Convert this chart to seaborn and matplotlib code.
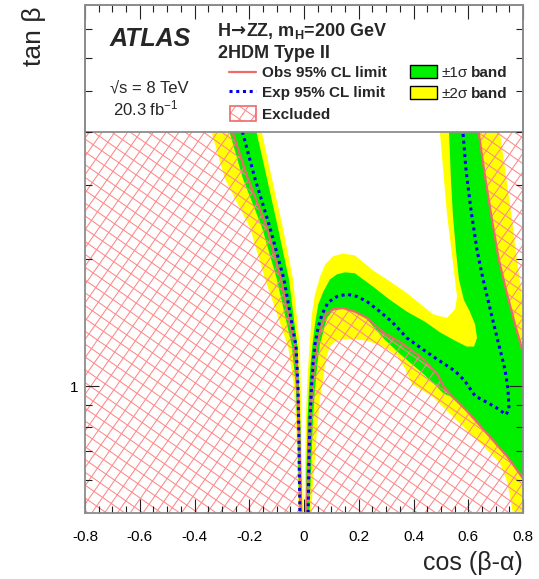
import numpy as np
import matplotlib
matplotlib.use("Agg")
import matplotlib.pyplot as plt
import seaborn as sns
from matplotlib.patches import Polygon, Rectangle
from matplotlib.collections import LineCollection
from matplotlib.lines import Line2D
from matplotlib.transforms import IdentityTransform
from matplotlib.ticker import FixedLocator, FixedFormatter, NullFormatter

# ---------------------------------------------------------------------------
# Limit contours in the (cos(beta-alpha), tan beta) plane
# ---------------------------------------------------------------------------
# left branch (cos < 0), sampled on a common tan(beta) grid (top -> bottom)
tb_left = [4.3, 3.96, 3.10, 2.37, 1.79, 1.24, 1.0, 0.79, 0.5]
left_2s_lo = [-0.352, -0.336, -0.289, -0.197, -0.142, -0.058, -0.037, -0.028, -0.020]
left_1s_lo = [-0.286, -0.270, -0.223, -0.153, -0.099, -0.044, -0.030, -0.024, -0.017]
left_obs = [-0.277, -0.259, -0.205, -0.135, -0.084, -0.033, -0.024, -0.018, -0.010]
left_exp = [-0.238, -0.223, -0.179, -0.124, -0.073, -0.029, -0.022, -0.019, -0.015]
left_1s_hi = [-0.184, -0.172, -0.135, -0.095, -0.055, -0.024, -0.018, -0.013, -0.007]
left_2s_hi = [-0.165, -0.153, -0.117, -0.077, -0.040, -0.015, -0.012, -0.009, -0.004]

# observed limit, right lobe (from cos~0 over the hump to the right edge)
obs_lo_x = [0.009, 0.015, 0.022, 0.029, 0.037, 0.048, 0.062, 0.080, 0.106, 0.142, 0.186,
            0.230, 0.289, 0.351, 0.435, 0.486, 0.511, 0.533, 0.595, 0.669, 0.742, 0.800]
obs_lo_t = [0.5, 0.638, 0.837, 0.984, 1.13, 1.255, 1.38, 1.48, 1.52, 1.53, 1.50,
            1.45, 1.34, 1.27, 1.16, 1.07, 0.995, 0.958, 0.873, 0.771, 0.681, 0.604]
# observed limit, upper right corner
obs_hi_x = [0.632, 0.639, 0.661, 0.687, 0.712, 0.742, 0.771, 0.800]
obs_hi_t = [4.3, 3.96, 3.15, 2.47, 1.99, 1.65, 1.40, 1.20]

# expected limit, right side
exp_r_x = [0.015, 0.018, 0.022, 0.027, 0.033, 0.040, 0.052, 0.066, 0.088, 0.121, 0.157, 0.194,
           0.230, 0.267, 0.321, 0.376, 0.435, 0.497, 0.552, 0.588, 0.625, 0.672, 0.709, 0.738,
           0.749, 0.745, 0.734, 0.716, 0.698, 0.676, 0.654, 0.632, 0.610, 0.592, 0.581, 0.577]
exp_r_t = [0.5, 0.655, 0.837, 0.984, 1.13, 1.255, 1.38, 1.48, 1.58, 1.63, 1.65, 1.63,
           1.585, 1.52, 1.42, 1.30, 1.22, 1.145, 1.085, 1.027, 0.947, 0.912, 0.883, 0.855,
           0.883, 0.984, 1.096, 1.22, 1.36, 1.56, 1.79, 2.10, 2.61, 3.24, 3.96, 4.3]

# +-1 sigma band, right side: edge towards the allowed region and edge towards the excluded one
g_in_x = [0.005, 0.009, 0.013, 0.018, 0.024, 0.031, 0.040, 0.052, 0.070, 0.095, 0.121, 0.150,
          0.186, 0.252, 0.314, 0.376, 0.442, 0.497, 0.552, 0.595, 0.621, 0.632, 0.625, 0.606,
          0.584, 0.566, 0.555, 0.544, 0.537, 0.530, 0.528]
g_in_t = [0.5, 0.638, 0.837, 0.984, 1.13, 1.255, 1.40, 1.56, 1.67, 1.79, 1.84, 1.86,
          1.85, 1.72, 1.60, 1.50, 1.42, 1.34, 1.28, 1.24, 1.24, 1.30, 1.40, 1.50,
          1.60, 1.79, 2.10, 2.54, 3.07, 3.96, 4.3]
g_out_x = [0.020, 0.026, 0.033, 0.040, 0.049, 0.058, 0.070, 0.084, 0.106, 0.142, 0.186,
           0.230, 0.289, 0.351, 0.435, 0.486, 0.511, 0.533, 0.595, 0.669, 0.742, 0.800]
g_out_t = [0.5, 0.638, 0.837, 0.984, 1.13, 1.255, 1.34, 1.45, 1.51, 1.53, 1.50,
           1.44, 1.30, 1.19, 1.07, 0.995, 0.958, 0.947, 0.869, 0.767, 0.677, 0.601]

# +-2 sigma band, right side
y_in_x = [0.002, 0.004, 0.007, 0.011, 0.016, 0.022, 0.029, 0.040, 0.058, 0.077, 0.106, 0.142,
          0.186, 0.252, 0.314, 0.376, 0.471, 0.522, 0.552, 0.559, 0.544, 0.522, 0.497, 0.494]
y_in_t = [0.5, 0.638, 0.837, 0.984, 1.13, 1.29, 1.48, 1.65, 1.81, 1.94, 2.03, 2.06,
          2.04, 1.88, 1.77, 1.66, 1.48, 1.45, 1.52, 1.63, 1.96, 2.57, 3.96, 4.3]
y_edge_x = [0.712, 0.716, 0.738, 0.760, 0.778, 0.793, 0.800]
y_edge_t = [4.3, 3.96, 3.15, 2.47, 1.99, 1.69, 1.56]
y_out_x = [0.026, 0.037, 0.048, 0.058, 0.070, 0.080, 0.095, 0.117, 0.142, 0.186, 0.230,
           0.289, 0.340, 0.369, 0.395, 0.471, 0.533, 0.595, 0.654, 0.716, 0.742, 0.763]
y_out_t = [0.5, 0.638, 0.792, 0.932, 1.04, 1.16, 1.24, 1.28, 1.29, 1.29, 1.28,
           1.24, 1.18, 1.10, 1.01, 0.942, 0.859, 0.784, 0.722, 0.655, 0.594, 0.5]

# axis ticks
x_major = [-0.8, -0.6, -0.4, -0.2, 0.0, 0.2, 0.4, 0.6, 0.8]
x_major_labels = ["-0.8", "-0.6", "-0.4", "-0.2", "0", "0.2", "0.4", "0.6", "0.8"]
x_minor = [-0.8 + 0.05 * i for i in range(33)]
y_major = [1.0]
y_major_labels = ["1"]
y_minor = [0.6, 0.7, 0.8, 0.9, 2, 3, 4, 5, 6, 7]

# ---------------------------------------------------------------------------
# Style
# ---------------------------------------------------------------------------
sns.set_style("ticks")
plt.rcParams["font.family"] = ["Liberation Sans", "DejaVu Sans"]
plt.rcParams["mathtext.fontset"] = "custom"
plt.rcParams["mathtext.rm"] = "Liberation Sans"
plt.rcParams["mathtext.bf"] = "Liberation Sans:bold"
plt.rcParams["mathtext.it"] = "Liberation Sans:italic"
plt.rcParams["axes.unicode_minus"] = False

YELLOW = "#ffff00"
GREEN = "#00f000"
OBS_RED = "#ee6a6a"
HATCH_RED = "#ff8888"
EXP_BLUE = "#0000ee"
FRAME = "#8c8c8c"
DOTS = (0, (1, 1.2))

W, H = 539, 579
fig = plt.figure(figsize=(W / 100, H / 100), dpi=100)
fig.patch.set_facecolor("white")
ax = fig.add_axes([85 / W, 1 - 513 / H, 438 / W, 508 / H])
ax.set_yscale("log")
renderer = fig.canvas.get_renderer()


def fpx(x, y):
    """pixel position measured from the top-left corner -> figure fraction"""
    return x / W, 1 - y / H


def text_run(x, y, pieces):
    """write consecutive text pieces on one baseline: (text, style, gap after in px)"""
    for s, kw, gap in pieces:
        t = fig.text(*fpx(x, y), s, va="baseline", **kw)
        x = t.get_window_extent(renderer=renderer).x1 + gap
    return x


def add_hatch(parent, clip, spacing=10.5, angles=(55.0, -35.0), zorder=1.5):
    """cross-hatching drawn as line families in screen pixels, clipped to a patch"""
    segs = []
    L = np.hypot(W, H)
    centre = np.array([W / 2, H / 2])
    for a in np.deg2rad(angles):
        d = np.array([np.cos(a), np.sin(a)])
        n = np.array([-d[1], d[0]])
        for k in np.arange(-L / spacing, L / spacing + 1):
            c = centre + k * spacing * n
            segs.append([c - d * L, c + d * L])
    lc = LineCollection(segs, transform=IdentityTransform(), colors=HATCH_RED,
                        linewidths=0.75, zorder=zorder)
    if parent is ax:
        ax.add_collection(lc, autolim=False)
    else:
        fig.add_artist(lc)
    lc.set_clip_path(clip)
    return lc


# ---- bands ----
ax.fill(left_2s_lo + left_2s_hi[::-1], tb_left + tb_left[::-1], color=YELLOW, lw=0, zorder=1.0)
ax.fill(y_in_x + y_edge_x + [0.8] + y_out_x[::-1],
        y_in_t + y_edge_t + [0.5] + y_out_t[::-1], color=YELLOW, lw=0, zorder=1.0)
ax.fill(left_1s_lo + left_1s_hi[::-1], tb_left + tb_left[::-1], color=GREEN, lw=0, zorder=1.1)
ax.fill(g_in_x + obs_hi_x + g_out_x[::-1],
        g_in_t + obs_hi_t + g_out_t[::-1], color=GREEN, lw=0, zorder=1.1)

# ---- excluded regions (hatched) ----
excl_regions = [
    list(zip([-0.8, -0.8] + left_obs, [0.5, 4.3] + tb_left)),
    list(zip(obs_lo_x + [0.8], obs_lo_t + [0.5])),
    list(zip(obs_hi_x + [0.8], obs_hi_t + [4.3])),
]
for verts in excl_regions:
    poly = Polygon(verts, closed=True, transform=ax.transData)
    add_hatch(ax, poly)

# ---- observed / expected limit contours ----
for xs, ts in [(left_obs, tb_left), (obs_lo_x, obs_lo_t), (obs_hi_x, obs_hi_t)]:
    sns.lineplot(x=xs, y=ts, sort=False, estimator=None, ax=ax, color=OBS_RED,
                 lw=1.6, zorder=2.0)
for xs, ts in [(left_exp, tb_left), (exp_r_x, exp_r_t)]:
    sns.lineplot(x=xs, y=ts, sort=False, estimator=None, ax=ax, color=EXP_BLUE,
                 lw=2.2, linestyle=DOTS, dash_capstyle="butt", zorder=2.1)

ax.set_xlim(-0.8, 0.8)
ax.set_ylim(0.5, 8)
ax.set_xlabel("")
ax.set_ylabel("")

# ---- legend panel covering the top of the frame ----
ax.add_patch(Rectangle((0, 0.75), 1, 0.25, transform=ax.transAxes, facecolor="white",
                       edgecolor=FRAME, lw=1.3, zorder=2.4, clip_on=False))

# ---- axes ----
ax.set_axisbelow(False)
for s in ax.spines.values():
    s.set_color(FRAME)
    s.set_linewidth(1.3)
    s.set_zorder(2.6)
ax.xaxis.set_major_locator(FixedLocator(x_major))
ax.xaxis.set_major_formatter(FixedFormatter(x_major_labels))
ax.xaxis.set_minor_locator(FixedLocator(x_minor))
ax.yaxis.set_major_locator(FixedLocator(y_major))
ax.yaxis.set_major_formatter(FixedFormatter(y_major_labels))
ax.yaxis.set_minor_locator(FixedLocator(y_minor))
ax.yaxis.set_minor_formatter(NullFormatter())
ax.tick_params(which="both", direction="in", top=True, right=True, color="#222222",
               width=0.8, labelsize=11, labelcolor="black")
ax.tick_params(which="major", length=10)
ax.tick_params(which="minor", length=5)
ax.tick_params(axis="x", which="both", pad=12)
ax.tick_params(axis="y", which="both", pad=5)

# axis titles
fig.text(*fpx(34, 6), "tan β", rotation=90, ha="center", va="top", fontsize=19)
fig.text(*fpx(523, 563), "cos (β-α)", ha="right", va="center", fontsize=18)

# ---- legend panel contents ----
fig.text(*fpx(110, 46), "ATLAS", fontsize=18, fontweight="bold", fontstyle="italic",
         va="baseline")
fig.text(*fpx(110, 92), "√s = 8 TeV", fontsize=12, va="baseline")
fig.text(*fpx(113, 115), "20.3 fb$^{-1}$", fontsize=12, va="baseline")
text_run(218, 36, [
    ("H", dict(fontsize=13, fontweight="bold"), 0),
    ("→", dict(fontsize=13, fontweight="bold", family="DejaVu Sans"), 0),
    (r"ZZ, m$_{\mathbf{H}}$=200 GeV", dict(fontsize=13, fontweight="bold"), 0),
])
fig.text(*fpx(218, 58), "2HDM Type II", fontsize=13, fontweight="bold", va="baseline")

x0, y0 = fpx(229, 72)
x1, _ = fpx(256, 72)
fig.add_artist(Line2D([x0, x1], [y0, y0], transform=fig.transFigure, color=OBS_RED, lw=1.6))
fig.text(*fpx(262, 77), "Obs 95% CL limit", fontsize=11, fontweight="bold", va="baseline")
x0, y0 = fpx(229, 91)
fig.add_artist(Line2D([x0, x1], [y0, y0], transform=fig.transFigure, color=EXP_BLUE, lw=2.2,
                      linestyle=DOTS, dash_capstyle="butt"))
fig.text(*fpx(262, 97), "Exp 95% CL limit", fontsize=11, fontweight="bold", va="baseline")

bx, by = fpx(230, 121)
excl_box = Rectangle((bx, by), 26 / W, 15 / H, transform=fig.transFigure, facecolor="none",
                     edgecolor=OBS_RED, lw=1.2, zorder=4)
fig.add_artist(excl_box)
add_hatch(fig, Rectangle((bx, by), 26 / W, 15 / H, transform=fig.transFigure), zorder=3.5)
fig.text(*fpx(262, 119), "Excluded", fontsize=11, fontweight="bold", va="baseline")

for label, face, ybox, ybase in [("±1σ", GREEN, 78, 77), ("±2σ", YELLOW, 99, 98)]:
    gx, gy = fpx(410, ybox)
    fig.add_artist(Rectangle((gx, gy), 27 / W, 13 / H, transform=fig.transFigure,
                             facecolor=face, edgecolor="black", lw=1.0))
    text_run(442, ybase, [
        (label, dict(fontsize=11), 3),
        ("band", dict(fontsize=11, fontweight="bold"), 0),
    ])

fig.savefig("out.png", dpi=100)
